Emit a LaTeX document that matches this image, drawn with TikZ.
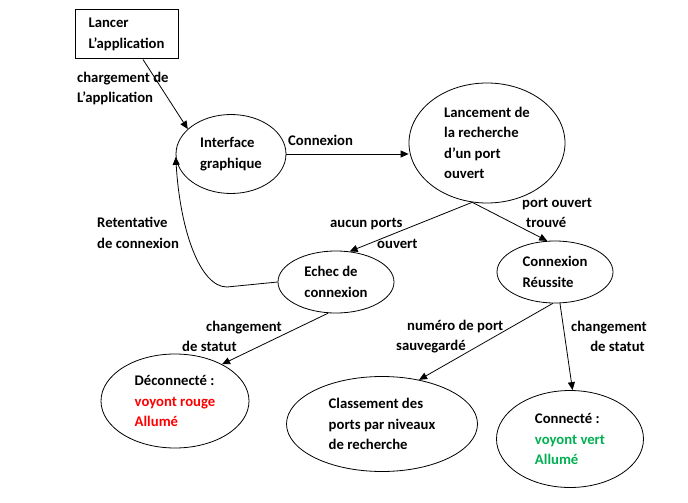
\documentclass[tikz,border=0pt]{standalone}
\usepackage{fontspec}
\setmainfont{Carlito}
\usetikzlibrary{shapes.geometric, arrows.meta}
\definecolor{rougevoyant}{RGB}{255,0,0}
\definecolor{vertvoyant}{RGB}{0,176,80}
\tikzset{
   texte/.style={
     font=\fontsize{14.7}{20.3}\selectfont\bfseries
   },
   etat/.style={
      texte,
      draw=black, ellipse, line width=0.8pt, inner sep=0pt, align=left
   },
   debut/.style={
      texte,
      draw=black, rectangle, line width=1pt, inner sep=0pt, align=left
   },
   etiquette/.style={texte, inner sep=0pt},
   fleche/.style={-{Triangle[length=8pt,width=7pt]}, line width=0.8pt}
}

\begin{document}
\begin{tikzpicture}[x=1pt, y=-1pt]
      \useasboundingbox (0,0) rectangle (688,503);

      \node[debut, minimum width=103pt, minimum height=49pt](lancer) at (126.5,34.5) {Lancer\\L’application};
      \node[etat, minimum width=110pt, minimum height=79pt](iface) at (231,154) {Interface\\graphique};
      \node[etat, minimum width=156pt, minimum height=120pt](lancement) at (487,143) {Lancement de\\la recherche\\d’un port\\ouvert};
      \node[etat, minimum width=116pt, minimum height=62pt](echec) at (336,282) {Echec de\\connexion};
      \node[etat, minimum width=116pt, minimum height=62pt](reussite) at (555,272) {Connexion\\Réussite};
      \node[etat, minimum width=148pt, minimum height=94pt](decon) at (175,401) {Déconnecté :\\\textcolor{rougevoyant}{voyont rouge}\\\textcolor{rougevoyant}{Allumé}};
      \node[etat, minimum width=191pt, minimum height=95pt](classement) at (382,424) {Classement des\\ports par niveaux\\de recherche};
      \node[etat, minimum width=147pt, minimum height=97pt](connecte) at (570,439) {Connecté :\\\textcolor{vertvoyant}{voyont vert}\\\textcolor{vertvoyant}{Allumé}};

      \node[etiquette, anchor=west, align=left](lblcharg) at (77,88.5) {chargement de\\L’application};
      \node[etiquette, anchor=west](lblcnx) at (288,140) {Connexion};
      \node[etiquette, anchor=west, align=left](lblaucun) at (330,233.5) {aucun ports\\\hspace*{47pt}ouvert};
      \node[etiquette, anchor=west, align=left](lbltrouve) at (522,213) {port ouvert\\\hspace*{4pt}trouvé};
      \node[etiquette, anchor=west, align=left](lblretent) at (97,233) {Retentative\\de connexion};
      \node[etiquette, anchor=west, align=left](lblstatutg) at (182,336.5) {\hspace*{24pt}changement\\de statut};
      \node[etiquette, anchor=west, align=left](lblnumero) at (396,336.5) {\hspace*{11pt}numéro de port\\sauvegardé};
      \node[etiquette, anchor=east, align=right](lblstatutd) at (647,336.5) {changement\\de statut\hspace*{2pt}};

      \coordinate (coude) at (227,287);

      \draw[fleche] ([xshift=16.5pt]lancer.south) -- (iface.150);
      \draw[fleche] (iface.east) -- (iface.east -| lancement.west);
      \draw[fleche] (lancement.256) -- (echec.66);
      \draw[fleche] (lancement.256) -- (reussite.104);
      \draw[fleche] (echec.west) -- (coude) .. controls (200,287) and (180,230) .. (iface.183);
      \draw[fleche] (echec.256) -- (decon.38);
      \draw[fleche] (reussite.266) -- (classement.50);
      \draw[fleche] (reussite.279) -- (connecte.87);
   \end{tikzpicture}
\end{document}
